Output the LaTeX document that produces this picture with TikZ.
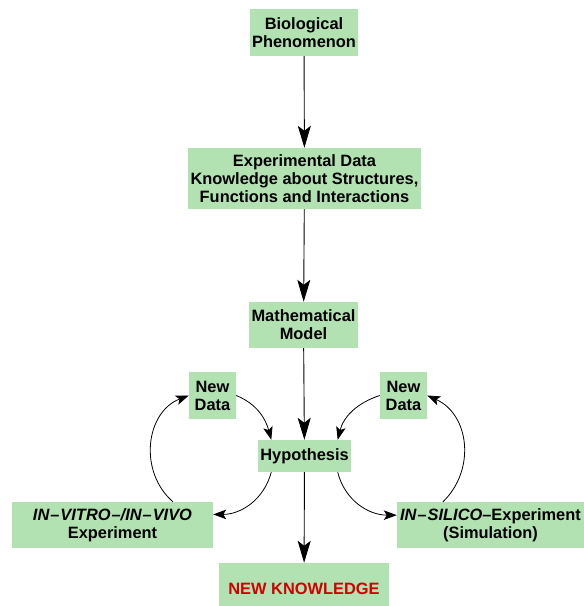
\documentclass[tikz,border=0pt]{standalone}
\usepackage{fontspec}
\setmainfont{Liberation Sans}
\usetikzlibrary{arrows.meta}
\definecolor{boxgreen}{RGB}{178,225,178}
\definecolor{knowred}{RGB}{210,0,0}
\begin{document}
\begin{tikzpicture}[x=1pt,y=1pt,
  box/.style={fill=boxgreen, draw=none, align=center, inner sep=0pt,
    font=\fontsize{16.4}{18}\selectfont\bfseries},
  mainflow/.style={line width=0.9pt, -{Stealth[length=22pt,width=13pt,inset=5pt]}},
  loop/.style={line width=0.8pt, -{Stealth[length=13pt,width=9.5pt,inset=3pt]}}]
\useasboundingbox (0,0) rectangle (584,606);
\clip (0,0) rectangle (584,606);

% main column
\node[box, minimum width=108, minimum height=47] (bio) at (304,573.5) {Biological\\Phenomenon};
\node[box, minimum width=233, minimum height=61] (exp) at (304.5,427.5)
  {Experimental Data\\Knowledge about Structures,\\Functions and Interactions};
\node[box, minimum width=109, minimum height=46] (math) at (303.5,281) {Mathematical\\Model};
\node[box, minimum width=93, minimum height=32] (hyp) at (304.5,150) {Hypothesis};
\node[box, minimum width=170, minimum height=52, text=knowred] (nk) at (304,17) {NEW KNOWLEDGE};

% experiment loops
\node[box, minimum width=47, minimum height=47] (ndl) at (212.5,210.5) {New\\Data};
\node[box, minimum width=47, minimum height=47] (ndr) at (403.5,210.5) {New\\Data};
\node[box, minimum width=201, minimum height=46] (vitro) at (112.5,81)
  {\itshape IN\kern1pt--\kern1pt VITRO\kern1pt--/IN\kern1pt--\kern1pt VIVO\\Experiment};
\node[box, minimum width=187, minimum height=46] (silico) at (490.5,81)
  {{\itshape IN\kern1pt--\kern1pt SILICO}--Experiment\\(Simulation)};

\draw[mainflow] (bio) -- (exp);
\draw[mainflow] (exp) -- (math);
\draw[mainflow] (math) -- (hyp);
\draw[mainflow] (hyp) -- (nk);

% left cycle
\draw[loop] (ndl.east) to[out=-22,in=105] (hyp.154);
\draw[loop] (hyp.206) to[out=-105,in=0] (vitro.6);
\draw[loop] (vitro.21) to[out=139,in=201,looseness=1.1] (ndl.west);

% right cycle
\draw[loop] (ndr.west) to[out=198,in=76] (hyp.26);
\draw[loop] (hyp.334) to[out=-76,in=180] (silico.174);
\draw[loop] (silico.154) to[out=44,in=336,looseness=1.1] (ndr.east);
\end{tikzpicture}
\end{document}
